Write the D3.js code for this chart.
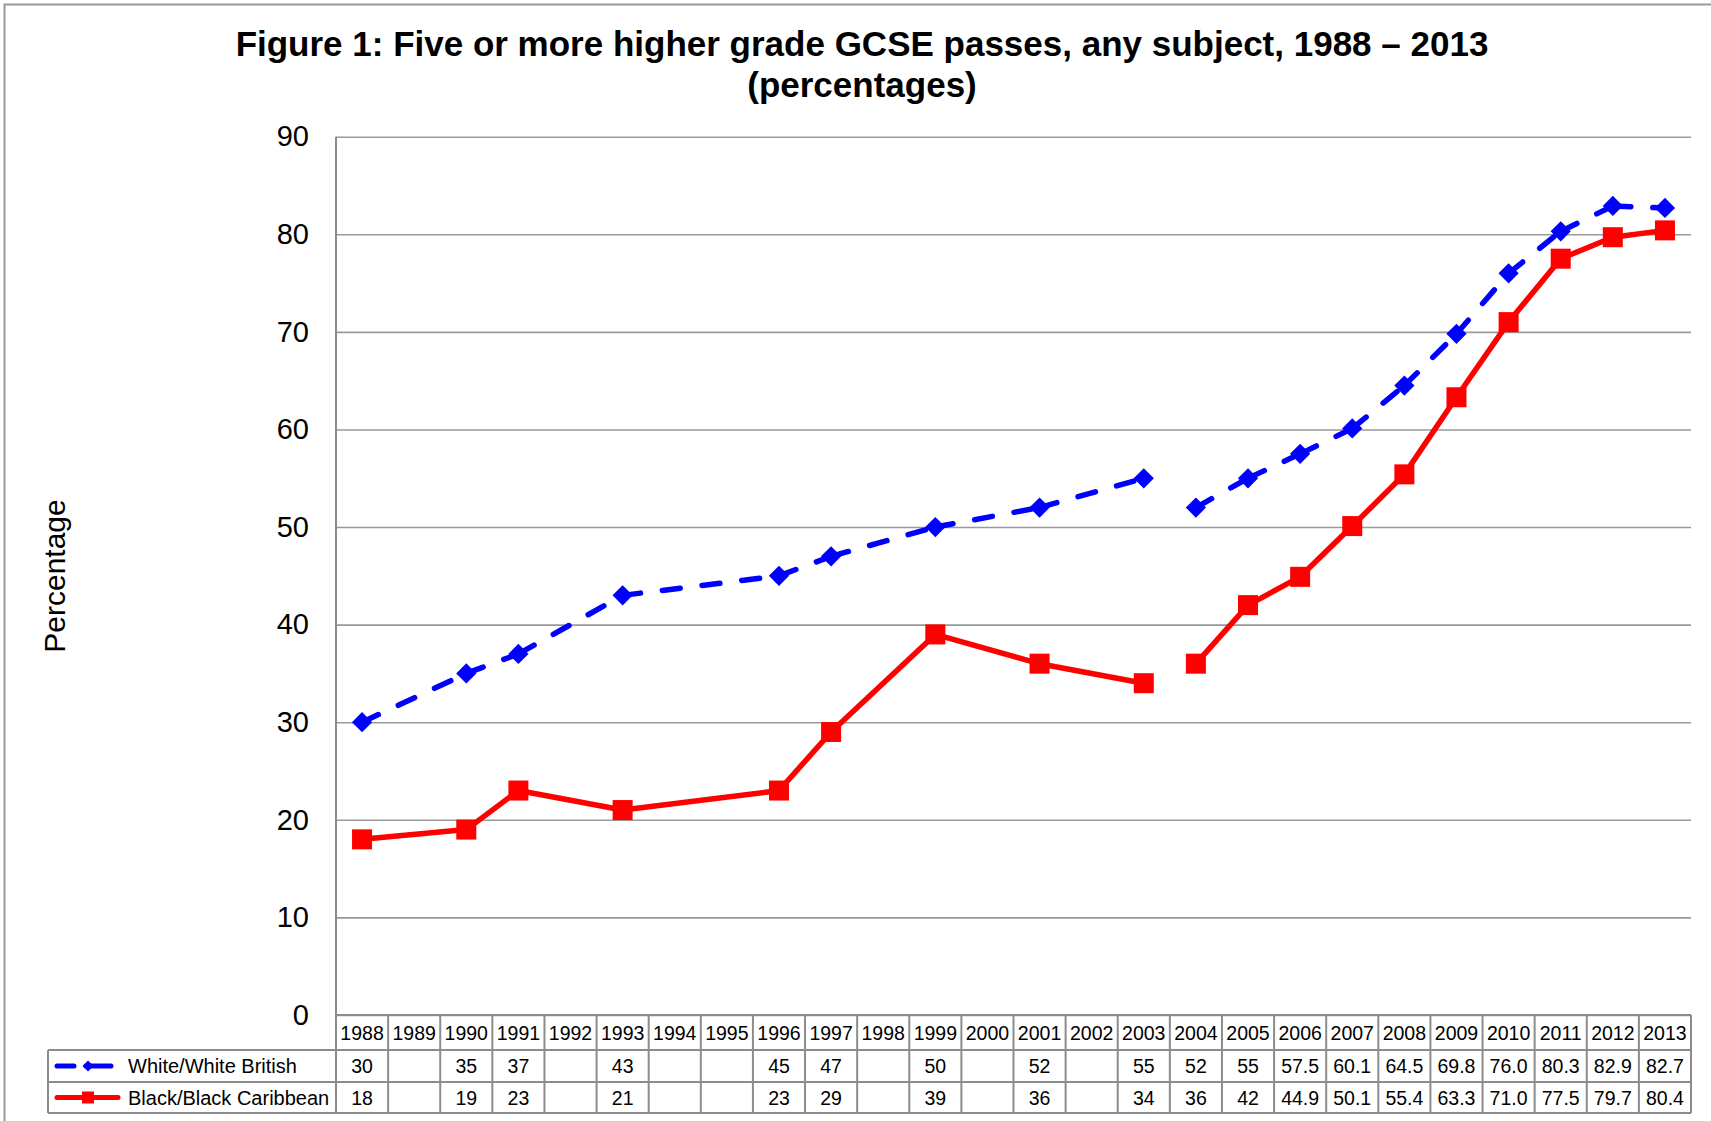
<!DOCTYPE html>
<html>
<head>
<meta charset="utf-8">
<script src="https://cdn.jsdelivr.net/npm/d3@7"></script>
<style>
  body { margin: 0; background: #fff; }
  svg { display: block; font-family: "Liberation Sans", Arial, sans-serif; }
</style>
</head>
<body>
<div id="chart"></div>
<script>
// -- DATA -- //
const years = ["1988","1989","1990","1991","1992","1993","1994","1995","1996","1997","1998","1999","2000",
    "2001","2002","2003","2004","2005","2006","2007","2008","2009","2010","2011","2012","2013"];

const white = [30, null, 35, 37, null, 43, null, null, 45, 47, null, 50, null,
    52, null, 55, 52, 55, 57.5, 60.1, 64.5, 69.8, 76.0, 80.3, 82.9, 82.7];

const black = [18, null, 19, 23, null, 21, null, null, 23, 29, null, 39, null,
    36, null, 34, 36, 42, 44.9, 50.1, 55.4, 63.3, 71.0, 77.5, 79.7, 80.4];

// line is broken after this year (change of series)
const breakAfter = "2003";
const yTicks = [0, 10, 20, 30, 40, 50, 60, 70, 80, 90];
const seriesNames = ["White/White British", "Black/Black Caribbean"];

// -- LAYOUT -- //
const width = 1711, height = 1121;
const plotLeft = 336, plotRight = 1691, plotTop = 136.7, plotBottom = 1015;
const rowY = [1015, 1050, 1082, 1113];   // table row edges
const legendLeft = 48;
const grey = "#8c8c8c";

const svg = d3.select("#chart").append("svg")
    .attr("width", width)
    .attr("height", height);

// outer frame (only top and left edges visible)
svg.append("rect")
    .attr("x", 4.5).attr("y", 4.5)
    .attr("width", width + 20).attr("height", height + 20)
    .attr("fill", "none").attr("stroke", "#999").attr("stroke-width", 2);

// title
const title = svg.append("text")
    .attr("text-anchor", "middle")
    .attr("font-weight", "bold")
    .attr("font-size", 35)
    .attr("fill", "#000");
title.append("tspan").attr("x", 862).attr("y", 56)
    .text("Figure 1: Five or more higher grade GCSE passes, any subject, 1988 \u2013 2013");
title.append("tspan").attr("x", 862).attr("y", 97).text("(percentages)");

// scales
const x = d3.scaleBand().domain(years).range([plotLeft, plotRight]);
const y = d3.scaleLinear().domain([0, 90]).range([plotBottom, plotTop]);

// y axis + gridlines
const yAxis = svg.append("g")
    .attr("transform", `translate(${plotLeft},0)`)
    .call(d3.axisLeft(y).tickValues(yTicks).tickSizeInner(-(plotRight - plotLeft)).tickSizeOuter(0).tickPadding(27));
yAxis.select(".domain").remove();
yAxis.selectAll(".tick line").attr("stroke", "#999").attr("stroke-width", 1.6);
yAxis.selectAll(".tick text")
    .attr("font-size", 29)
    .attr("fill", "#000")
    .attr("font-family", "'Liberation Sans', Arial, sans-serif");

// y label
svg.append("text")
    .attr("transform", "translate(65,576) rotate(-90)")
    .attr("text-anchor", "middle")
    .attr("font-size", 30)
    .text("Percentage");

// left axis line (runs through table)
svg.append("line")
    .attr("x1", plotLeft).attr("x2", plotLeft)
    .attr("y1", plotTop).attr("y2", rowY[3])
    .attr("stroke", grey).attr("stroke-width", 2);

// -- DATA TABLE -- //
const table = svg.append("g").attr("stroke", grey).attr("stroke-width", 2);
// horizontal lines
table.append("line").attr("x1", plotLeft).attr("x2", plotRight).attr("y1", rowY[0]).attr("y2", rowY[0]);
[rowY[1], rowY[2], rowY[3]].forEach(yy => {
    table.append("line").attr("x1", legendLeft).attr("x2", plotRight).attr("y1", yy).attr("y2", yy);
});
// vertical lines
years.forEach(yr => {
    table.append("line")
        .attr("x1", x(yr) + x.bandwidth()).attr("x2", x(yr) + x.bandwidth())
        .attr("y1", rowY[0]).attr("y2", rowY[3]);
});
table.append("line").attr("x1", legendLeft).attr("x2", legendLeft).attr("y1", rowY[1]).attr("y2", rowY[3]);

const fmt = (v, i) => v == null ? "" : (+years[i] >= 2006 ? v.toFixed(1) : String(v));
const cellText = (vals, r, f) => {
    svg.append("g").selectAll("text")
        .data(vals)
        .enter()
        .append("text")
        .attr("x", (d, i) => x(years[i]) + x.bandwidth() / 2)
        .attr("y", (rowY[r] + rowY[r + 1]) / 2 + 7)
        .attr("text-anchor", "middle")
        .attr("font-size", 19.5)
        .text(f);
};
cellText(years, 0, d => d);
cellText(white, 1, fmt);
cellText(black, 2, fmt);

// legend keys in the table
const wy = (rowY[1] + rowY[2]) / 2, by = (rowY[2] + rowY[3]) / 2;
svg.append("line").attr("x1", 57).attr("x2", 74).attr("y1", wy).attr("y2", wy)
    .attr("stroke", "blue").attr("stroke-width", 5).attr("stroke-linecap", "round");
svg.append("line").attr("x1", 86).attr("x2", 111).attr("y1", wy).attr("y2", wy)
    .attr("stroke", "blue").attr("stroke-width", 5).attr("stroke-linecap", "round");
svg.append("path").attr("d", d3.symbol(d3.symbolSquare, 60)())
    .attr("transform", `translate(88,${wy}) rotate(45)`).attr("fill", "blue");
svg.append("line").attr("x1", 57).attr("x2", 118).attr("y1", by).attr("y2", by)
    .attr("stroke", "red").attr("stroke-width", 5).attr("stroke-linecap", "round");
svg.append("rect").attr("x", 82).attr("y", by - 6).attr("width", 12).attr("height", 12).attr("fill", "red");

svg.append("text").attr("x", 128).attr("y", wy + 7).attr("font-size", 20).text(seriesNames[0]);
svg.append("text").attr("x", 128).attr("y", by + 7).attr("font-size", 20).text(seriesNames[1]);

// -- SERIES -- //
const cx = yr => x(yr) + x.bandwidth() / 2;

const drawSeries = (vals, color, dashed) => {
    const pts = years.map((yr, i) => ({ yr, v: vals[i] })).filter(d => d.v != null);
    const segs = [];
    for (let i = 1; i < pts.length; i++) {
        if (pts[i - 1].yr === breakAfter) continue;
        segs.push([pts[i - 1], pts[i]]);
    }
    const line = d3.line().x(d => cx(d.yr)).y(d => y(d.v));
    svg.append("g").selectAll("path")
        .data(segs)
        .enter()
        .append("path")
        .attr("d", line)
        .attr("fill", "none")
        .attr("stroke", color)
        .attr("stroke-width", 5.5)
        .attr("stroke-linejoin", "round")
        .attr("stroke-linecap", dashed ? "round" : "butt")
        .attr("stroke-dasharray", dashed ? "18 22" : null);
    return pts;
};

const wPts = drawSeries(white, "blue", true);
const bPts = drawSeries(black, "red", false);

svg.append("g").selectAll("path")
    .data(wPts)
    .enter()
    .append("path")
    .attr("d", d3.symbol(d3.symbolSquare, 205)())
    .attr("transform", d => `translate(${cx(d.yr)},${y(d.v)}) rotate(45)`)
    .attr("fill", "blue");

svg.append("g").selectAll("rect")
    .data(bPts)
    .enter()
    .append("rect")
    .attr("x", d => cx(d.yr) - 10)
    .attr("y", d => y(d.v) - 10)
    .attr("width", 20)
    .attr("height", 20)
    .attr("fill", "red");
</script>
</body>
</html>
